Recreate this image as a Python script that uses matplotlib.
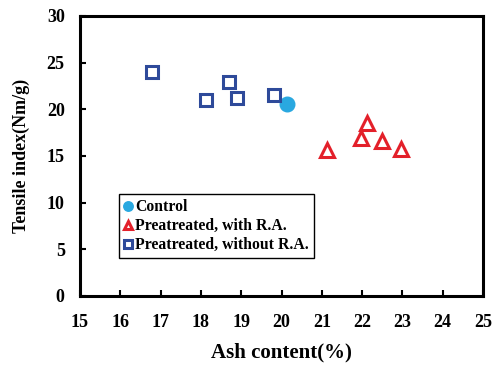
import matplotlib
matplotlib.use("Agg")
import matplotlib.pyplot as plt

# Data
control_x = [20.14]
control_y = [20.55]
with_ra_x = [21.12, 22.13, 21.97, 22.50, 22.96]
with_ra_y = [15.65, 18.5, 16.9, 16.6, 15.7]
without_ra_x = [16.78, 18.12, 18.69, 18.89, 19.81]
without_ra_y = [23.95, 21.0, 22.95, 21.2, 21.55]

xticks = list(range(15, 26))
yticks = list(range(0, 31, 5))

plt.rcParams['font.family'] = ['Liberation Serif', 'DejaVu Serif']
plt.rcParams['font.weight'] = 'bold'

fig = plt.figure(figsize=(4.94, 3.66), dpi=100)
ax = fig.add_axes([80/494, 70/366, 403/494, 280/366])

ax.plot(control_x, control_y, 'o', ms=10.5, color='#29A8E0', mec='#29A8E0',
        label='Control', zorder=3)
ax.plot(with_ra_x, with_ra_y, '^', ms=9.5, mfc='white', mec='#E3202A', mew=2.2,
        label='Preatreated, with R.A.', zorder=3)
ax.plot(without_ra_x, without_ra_y, 's', ms=9, mfc='white', mec='#2E4A9A', mew=2.2,
        label='Preatreated, without R.A.', zorder=3)

ax.set_xlim(15, 25)
ax.set_ylim(0, 30)
ax.set_xticks(xticks)
ax.set_yticks(yticks)
ax.tick_params(direction='in', length=4, width=1.5, labelsize=13)
ax.tick_params(axis='x', pad=13)
ax.tick_params(axis='y', pad=11)
for lbl in ax.get_xticklabels() + ax.get_yticklabels():
    lbl.set_fontweight('bold')
for s in ax.spines.values():
    s.set_linewidth(2.2)

ax.set_xlabel('Ash content(%)', fontsize=15, fontweight='bold', labelpad=8)
ax.set_ylabel('Tensile index(Nm/g)', fontsize=13, fontweight='bold', labelpad=12)

leg = ax.legend(loc='lower left', bbox_to_anchor=(39/403, 38/280),
                handlelength=0.6, handletextpad=0.15, borderpad=0.3,
                labelspacing=0.2, fancybox=False, framealpha=1, markerscale=0.65,
                borderaxespad=0, prop={'weight': 'bold', 'size': 11.3})
leg.get_frame().set_edgecolor('black')
leg.get_frame().set_linewidth(1.0)

fig.savefig('out.png', dpi=100)
